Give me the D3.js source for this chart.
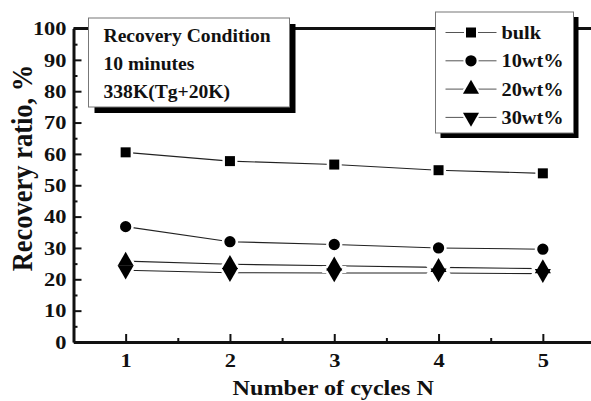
<!DOCTYPE html>
<html>
<head>
<meta charset="utf-8">
<script src="https://cdn.jsdelivr.net/npm/d3@7"></script>
<style>
  body { margin: 0; background: #fff; }
  svg text { font-family: "Liberation Serif", "Times New Roman", serif; font-weight: bold; fill: #111; }
  .axis path, .axis line { stroke: #111; }
</style>
</head>
<body>
<svg id="chart"></svg>
<script>
// Data
const cycles = [1, 2, 3, 4, 5];
const bulk = [60.5, 57.7, 56.6, 54.8, 53.8];
const wt10 = [36.8, 32.0, 31.1, 30.0, 29.6];
const wt20 = [25.8, 24.8, 24.3, 23.8, 23.4];
const wt30 = [22.9, 22.1, 22.0, 22.0, 21.8];
const seriesNames = ['bulk', '10wt%', '20wt%', '30wt%'];
const seriesSymbols = ['square', 'circle', 'up', 'down'];
const yTicks = [0, 10, 20, 30, 40, 50, 60, 70, 80, 90, 100];
const yMinorTicks = [5, 15, 25, 35, 45, 55, 65, 75, 85, 95];
const xMinorTicks = [1.5, 2.5, 3.5, 4.5, 5.5];
const conditionLines = ['Recovery Condition', '10 minutes', '338K(Tg+20K)'];

const config = {
  width: 591, height: 401,
  margin: {top: 28.5, left: 73.5, bottom: 59},
  xStretch: 1.15
};

const svg = d3.select('#chart')
    .attr('width', config.width)
    .attr('height', config.height);

const innerW = config.width + 4 - config.margin.left;
const innerH = config.height - config.margin.top - config.margin.bottom;

const chart = svg.append('g')
    .attr('transform', `translate(${config.margin.left},${config.margin.top})`);

const xScale = d3.scaleLinear().domain([0.5, 5.5]).range([0, innerW]);
const yScale = d3.scaleLinear().domain([0, 100]).range([innerH, 0]);

// symbol generators
function symbolPath(kind) {
  if (kind === 'square') return d3.symbol(d3.symbolSquare, 100)();
  if (kind === 'circle') return d3.symbol(d3.symbolCircle, 100)();
  return d3.symbol(d3.symbolTriangle, 112)();
}
function symbolRot(kind) {
  return kind === 'down' ? ' rotate(180)' : '';
}

// Axes (ticks pointing inside)
const xAxis = d3.axisBottom(xScale).tickValues(cycles).tickFormat(d3.format('d'))
    .tickSizeInner(-8).tickSizeOuter(0).tickPadding(11);
const yAxis = d3.axisLeft(yScale).tickValues(yTicks).tickFormat(d3.format('d'))
    .tickSizeInner(-8).tickSizeOuter(0).tickPadding(7);

const xAxisG = chart.append('g').attr('class', 'axis').attr('transform', `translate(0,${innerH})`).call(xAxis);
const yAxisG = chart.append('g').attr('class', 'axis').call(yAxis);

chart.append('g').attr('class', 'axis').attr('transform', `translate(0,${innerH})`)
    .call(d3.axisBottom(xScale).tickValues(xMinorTicks).tickSizeInner(-4).tickSizeOuter(0).tickFormat(''))
    .select('.domain').remove();
chart.append('g').attr('class', 'axis')
    .call(d3.axisLeft(yScale).tickValues(yMinorTicks).tickSizeInner(-4).tickSizeOuter(0).tickFormat(''))
    .select('.domain').remove();

chart.selectAll('.axis .domain').attr('stroke-width', 3);
chart.selectAll('.axis .tick line').attr('stroke-width', 2);

xAxisG.selectAll('text')
    .attr('font-size', 19.5)
    .attr('transform', `scale(${config.xStretch},1)`);
yAxisG.selectAll('text')
    .attr('font-size', 19.5)
    .attr('x', -7 / config.xStretch)
    .attr('transform', `scale(${config.xStretch},1)`);

// top frame line
chart.append('line')
    .attr('x1', 0).attr('x2', innerW)
    .attr('y1', 0).attr('y2', 0)
    .attr('stroke', '#111').attr('stroke-width', 3);

// Axis titles
svg.append('text')
    .attr('transform', `translate(${config.margin.left + xScale(3) - 1},395) scale(${config.xStretch},1)`)
    .attr('text-anchor', 'middle')
    .attr('font-size', 21)
    .text('Number of cycles N');

svg.append('text')
    .attr('transform', `translate(32,168) scale(${config.xStretch},1) rotate(-90)`)
    .attr('text-anchor', 'middle')
    .attr('font-size', 26.5)
    .text('Recovery ratio, %');

// Series
const series = [bulk, wt10, wt20, wt30].map((vals, i) => ({
  name: seriesNames[i],
  symbol: seriesSymbols[i],
  values: cycles.map((c, j) => ({x: c, y: vals[j]}))
}));

const line = d3.line().x(d => xScale(d.x)).y(d => yScale(d.y));

chart.selectAll('.series-line').data(series).join('path')
    .attr('class', 'series-line')
    .attr('d', d => line(d.values))
    .attr('fill', 'none')
    .attr('stroke', '#222')
    .attr('stroke-width', 1.1);

// white halo so line stops short of the markers
series.forEach(s => {
  chart.selectAll(null).data(s.values).join('path')
      .attr('transform', d => `translate(${xScale(d.x)},${yScale(d.y)})${symbolRot(s.symbol)}`)
      .attr('d', symbolPath(s.symbol))
      .attr('fill', '#fff').attr('stroke', '#fff').attr('stroke-width', 5);
});
series.forEach(s => {
  chart.selectAll(null).data(s.values).join('path')
      .attr('transform', d => `translate(${xScale(d.x)},${yScale(d.y)})${symbolRot(s.symbol)}`)
      .attr('d', symbolPath(s.symbol))
      .attr('fill', '#000');
});

// Condition box with drop shadow
const cond = svg.append('g').attr('transform', 'translate(88.5,18)');
cond.append('rect').attr('x', 6).attr('y', 6).attr('width', 201).attr('height', 89).attr('fill', '#000');
cond.append('rect').attr('width', 201).attr('height', 89).attr('fill', '#fff').attr('stroke', '#777').attr('stroke-width', 1);
cond.selectAll('text').data(conditionLines).join('text')
    .attr('transform', (d, i) => `translate(15,${23.5 + i * 28.3}) scale(1.06,1)`)
    .attr('font-size', 18.5)
    .text(d => d);

// Legend box with drop shadow
const legend = svg.append('g').attr('transform', 'translate(435.5,12)');
legend.append('rect').attr('x', 5).attr('y', 5).attr('width', 138).attr('height', 121).attr('fill', '#000');
legend.append('rect').attr('width', 138).attr('height', 121).attr('fill', '#fff').attr('stroke', '#777').attr('stroke-width', 1);

const rows = legend.selectAll('.legend-row').data(series).join('g')
    .attr('class', 'legend-row')
    .attr('transform', (d, i) => `translate(0,${20.5 + i * 28.3})`);
rows.append('line')
    .attr('x1', 10).attr('x2', 61)
    .attr('stroke', '#555').attr('stroke-width', 1);
rows.append('path')
    .attr('transform', d => `translate(35.5,0)${symbolRot(d.symbol)}`)
    .attr('d', d => symbolPath(d.symbol))
    .attr('fill', '#000').attr('stroke', '#fff').attr('stroke-width', 4)
    .attr('paint-order', 'stroke');
rows.append('text')
    .attr('transform', `translate(66,6.5) scale(1.1,1)`)
    .attr('font-size', 18.5)
    .text(d => d.name);
</script>
</body>
</html>
